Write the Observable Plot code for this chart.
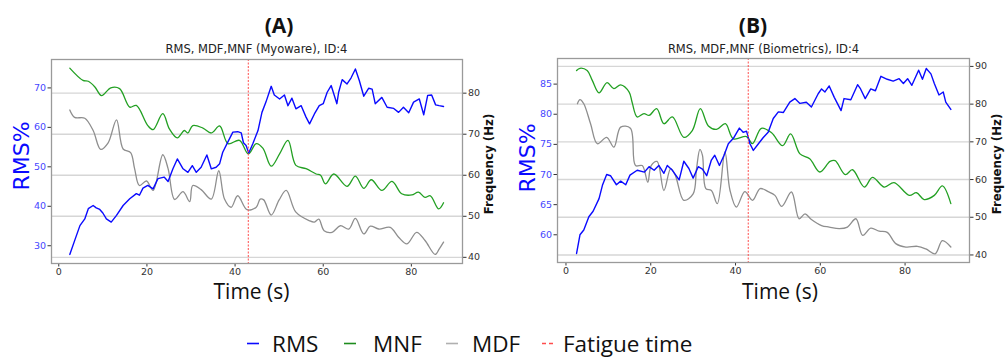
<!DOCTYPE html>
<html><head><meta charset="utf-8">
<script src="https://cdn.jsdelivr.net/npm/d3@7"></script>
<script src="https://cdn.jsdelivr.net/npm/@observablehq/plot@0.6"></script>
<style>
body{margin:0;background:#fff;width:1005px;height:358px;overflow:hidden;position:relative;font-family:"DejaVu Sans",sans-serif;}
.t{position:absolute;white-space:nowrap;line-height:1;}
</style></head><body>
<script>
// ---------------- DATA ----------------
const panelTitles = ["(A)", "(B)"];
const subTitles = ["RMS, MDF,MNF (Myoware), ID:4", "RMS, MDF,MNF (Biometrics), ID:4"];
const xTicks = [0, 20, 40, 60, 80];
const rmsTicksA = [30, 40, 50, 60, 70];
const hzTicksA = [40, 50, 60, 70, 80];
const rmsTicksB = [60, 65, 70, 75, 80, 85];
const hzTicksB = [40, 50, 60, 70, 80, 90];
const fatigueA = 43;
const fatigueB = 43;
const legendLabels = ["RMS", "MNF", "MDF", "Fatigue time"];

// [time (s), RMS %]
const rmsA = [[2.5,27.8],[3.6,31.3],[4.8,35.1],[5.9,36.8],[6.7,39.4],[7.8,40.2],[8.5,39.6],[9.3,39.2],[10.0,38.3],[10.8,36.8],[11.9,36.0],[13.1,37.7],[14.6,40.2],[16.1,41.9],[17.6,43.2],[18.3,42.8],[19.1,44.6],[20.2,45.3],[21.4,44.4],[22.5,47.0],[23.9,47.4],[24.8,46.3],[25.9,49.5],[26.9,52.0],[28.2,49.5],[29.3,48.6],[30.3,50.3],[31.2,48.6],[32.3,49.9],[33.6,53.0],[34.6,49.5],[35.7,49.9],[36.5,50.8],[37.2,53.7],[38.4,56.4],[39.5,58.8],[40.6,58.9],[41.4,58.6],[41.9,56.1],[42.5,55.4],[43.1,53.5],[44.0,55.8],[45.2,59.2],[46.1,63.8],[47.0,66.4],[48.2,70.4],[48.9,68.2],[50.1,67.2],[51.2,68.2],[52.0,65.5],[52.9,67.4],[53.8,64.7],[55.0,65.5],[56.1,62.6],[56.9,60.9],[58.0,63.4],[59.1,65.5],[60.0,66.0],[60.9,68.9],[61.8,70.6],[63.1,66.0],[63.5,68.9],[64.3,72.1],[65.4,71.0],[66.3,72.5],[67.3,74.8],[68.2,71.8],[69.2,67.9],[70.3,69.9],[71.1,69.7],[71.8,66.0],[73.3,67.6],[74.5,65.1],[76.0,64.8],[77.1,63.8],[78.2,65.1],[79.4,63.7],[80.5,66.4],[81.8,67.2],[82.8,63.2],[83.7,68.1],[84.6,68.2],[85.5,65.7],[86.3,65.5],[87.3,65.3]];
// [time (s), Hz]
const mnfA = [[2.5,86.1],[5.5,83.1],[6.7,82.9],[8.2,81.5],[9.7,79.4],[11.8,81.3],[13.8,81.1],[16.1,76.6],[17.6,77.0],[20.2,72.1],[21.4,71.1],[23.6,75.0],[25.1,71.3],[26.9,69.1],[28.5,70.9],[29.3,70.3],[30.4,72.1],[32.7,71.5],[34.6,70.3],[36.5,72.0],[38.4,67.7],[41.0,68.5],[43.0,65.2],[44.8,67.7],[46.3,66.6],[48.2,62.2],[50.1,65.2],[52.0,68.5],[53.8,62.4],[56.1,61.6],[58.4,60.3],[59.4,60.0],[60.5,57.9],[62.4,60.3],[65.4,57.3],[67.3,59.8],[69.2,56.8],[70.9,58.9],[73.3,56.3],[75.6,58.5],[77.8,55.5],[80.1,55.2],[81.6,55.9],[83.1,54.6],[84.3,55.0],[86.2,51.8],[87.3,53.3]];
const mdfA = [[2.5,75.9],[3.6,74.1],[5.9,73.9],[7.8,70.9],[9.5,66.3],[11.2,67.9],[13.1,73.5],[14.6,66.4],[16.3,65.5],[17.2,61.6],[18.3,57.5],[19.9,58.6],[21.4,56.3],[23.6,65.0],[24.8,61.6],[26.3,54.1],[28.2,56.0],[29.7,53.6],[30.4,57.5],[32.3,56.5],[34.6,54.2],[36.3,61.1],[37.6,54.2],[39.1,52.2],[40.6,55.0],[42.7,51.6],[44.8,52.2],[45.7,54.2],[46.5,54.0],[48.2,50.3],[50.0,54.0],[51.6,56.3],[53.8,51.0],[56.9,48.9],[58.0,48.6],[59.0,49.3],[60.2,46.5],[62.0,46.1],[63.9,47.7],[65.8,46.9],[67.3,49.5],[69.2,45.7],[70.7,47.6],[72.6,46.9],[75.2,47.3],[77.1,44.9],[79.0,43.3],[81.2,46.1],[83.1,44.1],[85.4,40.7],[86.3,42.0],[87.3,43.7]];

const rmsB = [[2.5,56.9],[3.3,60.0],[4.2,60.8],[5.4,63.0],[6.4,63.9],[7.8,66.0],[8.6,68.2],[9.6,70.0],[10.5,69.8],[11.9,68.3],[12.9,68.9],[14.1,68.3],[15.1,69.9],[16.8,70.7],[18.5,70.4],[19.6,71.3],[20.8,70.7],[21.9,71.5],[23.1,70.2],[23.9,71.5],[25.1,70.7],[26.7,69.1],[27.8,72.2],[29.0,71.0],[30.0,69.4],[31.2,71.3],[32.2,70.9],[33.2,69.8],[34.3,72.4],[35.1,73.2],[36.2,71.5],[37.3,73.2],[38.3,75.1],[39.5,76.0],[40.9,77.7],[41.8,77.0],[42.6,77.2],[43.4,75.1],[44.2,74.0],[45.4,75.1],[46.5,76.1],[47.7,77.0],[48.9,79.3],[50.1,80.4],[51.3,80.3],[52.8,82.0],[54.0,82.6],[55.2,81.8],[56.7,82.0],[57.9,81.2],[59.5,83.4],[60.3,84.2],[61.1,83.7],[62.1,84.7],[63.3,82.8],[64.9,80.6],[65.6,82.6],[67.2,82.4],[68.8,84.9],[69.5,84.2],[70.6,82.6],[71.9,84.2],[73.0,83.9],[74.3,86.3],[75.8,85.8],[77.2,85.5],[78.6,85.9],[79.6,85.1],[80.6,85.9],[81.6,84.8],[83.2,87.3],[84.1,85.8],[85.0,87.6],[86.1,86.7],[86.9,85.1],[88.0,83.2],[89.0,83.7],[89.6,82.0],[90.8,80.8]];
const mnfB = [[2.5,88.9],[3.3,89.5],[5.0,88.9],[6.2,86.3],[7.8,83.0],[9.7,85.7],[11.3,84.1],[12.9,85.1],[14.9,83.2],[15.6,80.5],[16.8,76.6],[18.4,77.5],[19.6,77.0],[21.4,78.8],[23.1,74.8],[25.1,76.6],[27.8,71.2],[29.8,73.0],[31.7,78.8],[33.6,74.2],[35.5,73.3],[37.6,74.8],[39.5,70.8],[42.6,71.4],[44.0,69.5],[46.1,73.6],[48.5,72.4],[51.1,69.0],[53.0,72.1],[55.2,66.8],[57.5,65.5],[59.9,62.0],[62.3,64.8],[63.5,65.0],[65.9,61.3],[67.6,62.6],[70.4,58.0],[72.3,60.6],[75.1,58.0],[77.4,59.2],[81.0,55.8],[82.7,56.5],[84.5,54.7],[86.9,55.8],[88.8,58.3],[90.8,53.6]];
const mdfB = [[2.7,80.1],[3.3,81.2],[4.2,80.1],[5.8,74.8],[7.4,69.5],[9.6,71.2],[11.3,68.6],[12.9,73.9],[15.2,73.6],[16.4,63.7],[18.0,63.7],[19.3,59.3],[20.1,63.7],[21.5,64.8],[23.1,57.1],[24.7,62.9],[25.8,61.1],[27.8,54.5],[30.0,56.2],[30.8,62.9],[31.6,68.0],[32.2,66.4],[33.0,57.6],[34.3,57.1],[35.7,53.6],[37.5,67.3],[38.7,57.1],[40.2,52.7],[42.2,56.8],[44.0,54.5],[45.8,57.6],[47.7,56.8],[49.3,55.8],[50.9,52.9],[53.2,56.7],[55.0,49.6],[56.4,50.9],[57.9,49.4],[60.3,47.8],[62.1,47.4],[64.5,47.0],[66.4,47.4],[68.4,49.6],[70.0,45.2],[71.9,47.1],[73.9,46.3],[75.8,46.0],[77.8,43.0],[80.2,42.1],[82.9,42.3],[84.9,41.6],[87.1,40.3],[88.8,43.8],[90.8,42.1]];

// ---------------- STYLE ----------------
const C = {rms:"#0a0aff", mnf:"#23a023", mdf:"#8e8e8e", fat:"#ff4d4d", grid:"#d6d6d6", frame:"#9a9a9a", tickBlue:"#4646ff", tick:"#333"};
const M = {l:45, r:45, t:8, b:28};

function place(el, left, top){
  el.style.position = "absolute";
  el.style.left = left + "px";
  el.style.top = top + "px";
  el.style.background = "transparent";
  el.style.maxWidth = "none";
  el.style.overflow = "visible";
  document.body.appendChild(el);
}
function text(str, x, y, css, anchor){
  const d = document.createElement("div");
  d.className = "t";
  d.textContent = str;
  Object.assign(d.style, css);
  d.style.left = x + "px"; d.style.top = y + "px";
  d.style.transform = anchor || "translate(-50%,-50%)";
  document.body.appendChild(d);
  return d;
}

function panel(p){
  const W = p.fw + M.l + M.r, H = p.fh + M.t + M.b;
  const common = {width:W, height:H, marginLeft:M.l, marginRight:M.r, marginTop:M.t, marginBottom:M.b,
    style:{fontFamily:"DejaVu Sans", fontSize:"9.5px", color:C.tick, background:"transparent"}};
  // bottom layer: frequency (Hz) scale on the right
  const hz = Plot.plot({...common,
    x:{domain:p.xDom, axis:null},
    y:{domain:p.hzDom, axis:"right", ticks:p.hzTicks, tickSize:3.5, tickPadding:2, label:null},
    marks:[
      Plot.ruleY(p.hzTicks, {stroke:C.grid, strokeWidth:1.4}),
      Plot.line(p.mdf, {x:d=>d[0], y:d=>d[1], stroke:C.mdf, strokeWidth:1.3, curve:"catmull-rom"}),
      Plot.line(p.mnf, {x:d=>d[0], y:d=>d[1], stroke:C.mnf, strokeWidth:1.3, curve:"catmull-rom"})
    ]});
  place(hz, p.left - M.l, p.top - M.t);
  // top layer: RMS % on the left, time on the bottom
  const rms = Plot.plot({...common,
    x:{domain:p.xDom, ticks:xTicks, tickSize:3.5, tickPadding:1, label:null},
    y:{domain:p.rmsDom, axis:"left", ticks:p.rmsTicks, tickSize:3.5, tickPadding:2, label:null},
    marks:[
      Plot.line(p.rms, {x:d=>d[0], y:d=>d[1], stroke:C.rms, strokeWidth:1.4}),
      Plot.ruleX([p.fatigue], {stroke:C.fat, strokeWidth:1, strokeDasharray:"2,1.5"}),
      Plot.frame({stroke:C.frame, strokeWidth:1.3})
    ]});
  rms.querySelectorAll('g[aria-label^="y-axis"] text').forEach(t => t.setAttribute("fill", C.tickBlue));
  place(rms, p.left - M.l, p.top - M.t);

  text(p.title, p.titleX, 25, {fontFamily:"Open Sans", fontWeight:"bold", fontSize:"21px", color:"#111"});
  text(p.sub, p.subX, 50, {fontFamily:"DejaVu Sans", fontSize:"11.5px", color:"#222"});
  text("Time (s)", p.timeX, 290.5, {fontFamily:"Open Sans", fontSize:"21px", color:"#111", lineHeight:"0.8"});
  text("RMS%", p.rmsLabX, p.rmsLabY, {fontFamily:"DejaVu Sans", fontSize:"22px", color:C.rms}, "translate(-50%,-50%) rotate(-90deg)");
  text("Frequency (Hz)", p.hzLabX, 164, {fontFamily:"DejaVu Sans", fontWeight:"bold", fontSize:"11.8px", color:"#111"}, "translate(-50%,-50%) rotate(-90deg)");
}

panel({left:51, top:59, fw:411, fh:204, xDom:[-1.65, 91.6], rmsDom:[25.5, 77.2], hzDom:[38.5, 88.2],
  rmsTicks:rmsTicksA, hzTicks:hzTicksA, rms:rmsA, mnf:mnfA, mdf:mdfA, fatigue:fatigueA,
  title:panelTitles[0], titleX:279, sub:subTitles[0], subX:256.5, timeX:251.5, rmsLabX:22, rmsLabY:156, hzLabX:490});
panel({left:557, top:58, fw:412, fh:204, xDom:[-2, 95.2], rmsDom:[55.4, 89.25], hzDom:[38, 92.1],
  rmsTicks:rmsTicksB, hzTicks:hzTicksB, rms:rmsB, mnf:mnfB, mdf:mdfB, fatigue:fatigueB,
  title:panelTitles[1], titleX:753, sub:subTitles[1], subX:763.5, timeX:780, rmsLabX:528, rmsLabY:158, hzLabX:998});

// ---------------- LEGEND ----------------
const legColors = [C.rms, "#1e8c1e", "#b0b0b0", C.fat];
const legLineX = [247, 344, 446, 542];
const legTextX = [272, 373, 472, 563];
const ns = "http://www.w3.org/2000/svg";
const lg = document.createElementNS(ns, "svg");
lg.setAttribute("width", 1005); lg.setAttribute("height", 40);
lg.style.position = "absolute"; lg.style.left = "0px"; lg.style.top = "318px";
legendLabels.forEach((lab, i) => {
  const l = document.createElementNS(ns, "line");
  l.setAttribute("x1", legLineX[i]); l.setAttribute("x2", legLineX[i] + 12);
  l.setAttribute("y1", 25.5); l.setAttribute("y2", 25.5);
  l.setAttribute("stroke", legColors[i]); l.setAttribute("stroke-width", 1.6);
  if (i === 3) l.setAttribute("stroke-dasharray", "4,3");
  lg.appendChild(l);
  const t = document.createElementNS(ns, "text");
  t.setAttribute("x", legTextX[i]); t.setAttribute("y", 33.5);
  t.setAttribute("font-family", "Open Sans"); t.setAttribute("font-size", 22.5);
  t.setAttribute("fill", "#111");
  t.textContent = lab;
  lg.appendChild(t);
});
document.body.appendChild(lg);
</script>
</body></html>
